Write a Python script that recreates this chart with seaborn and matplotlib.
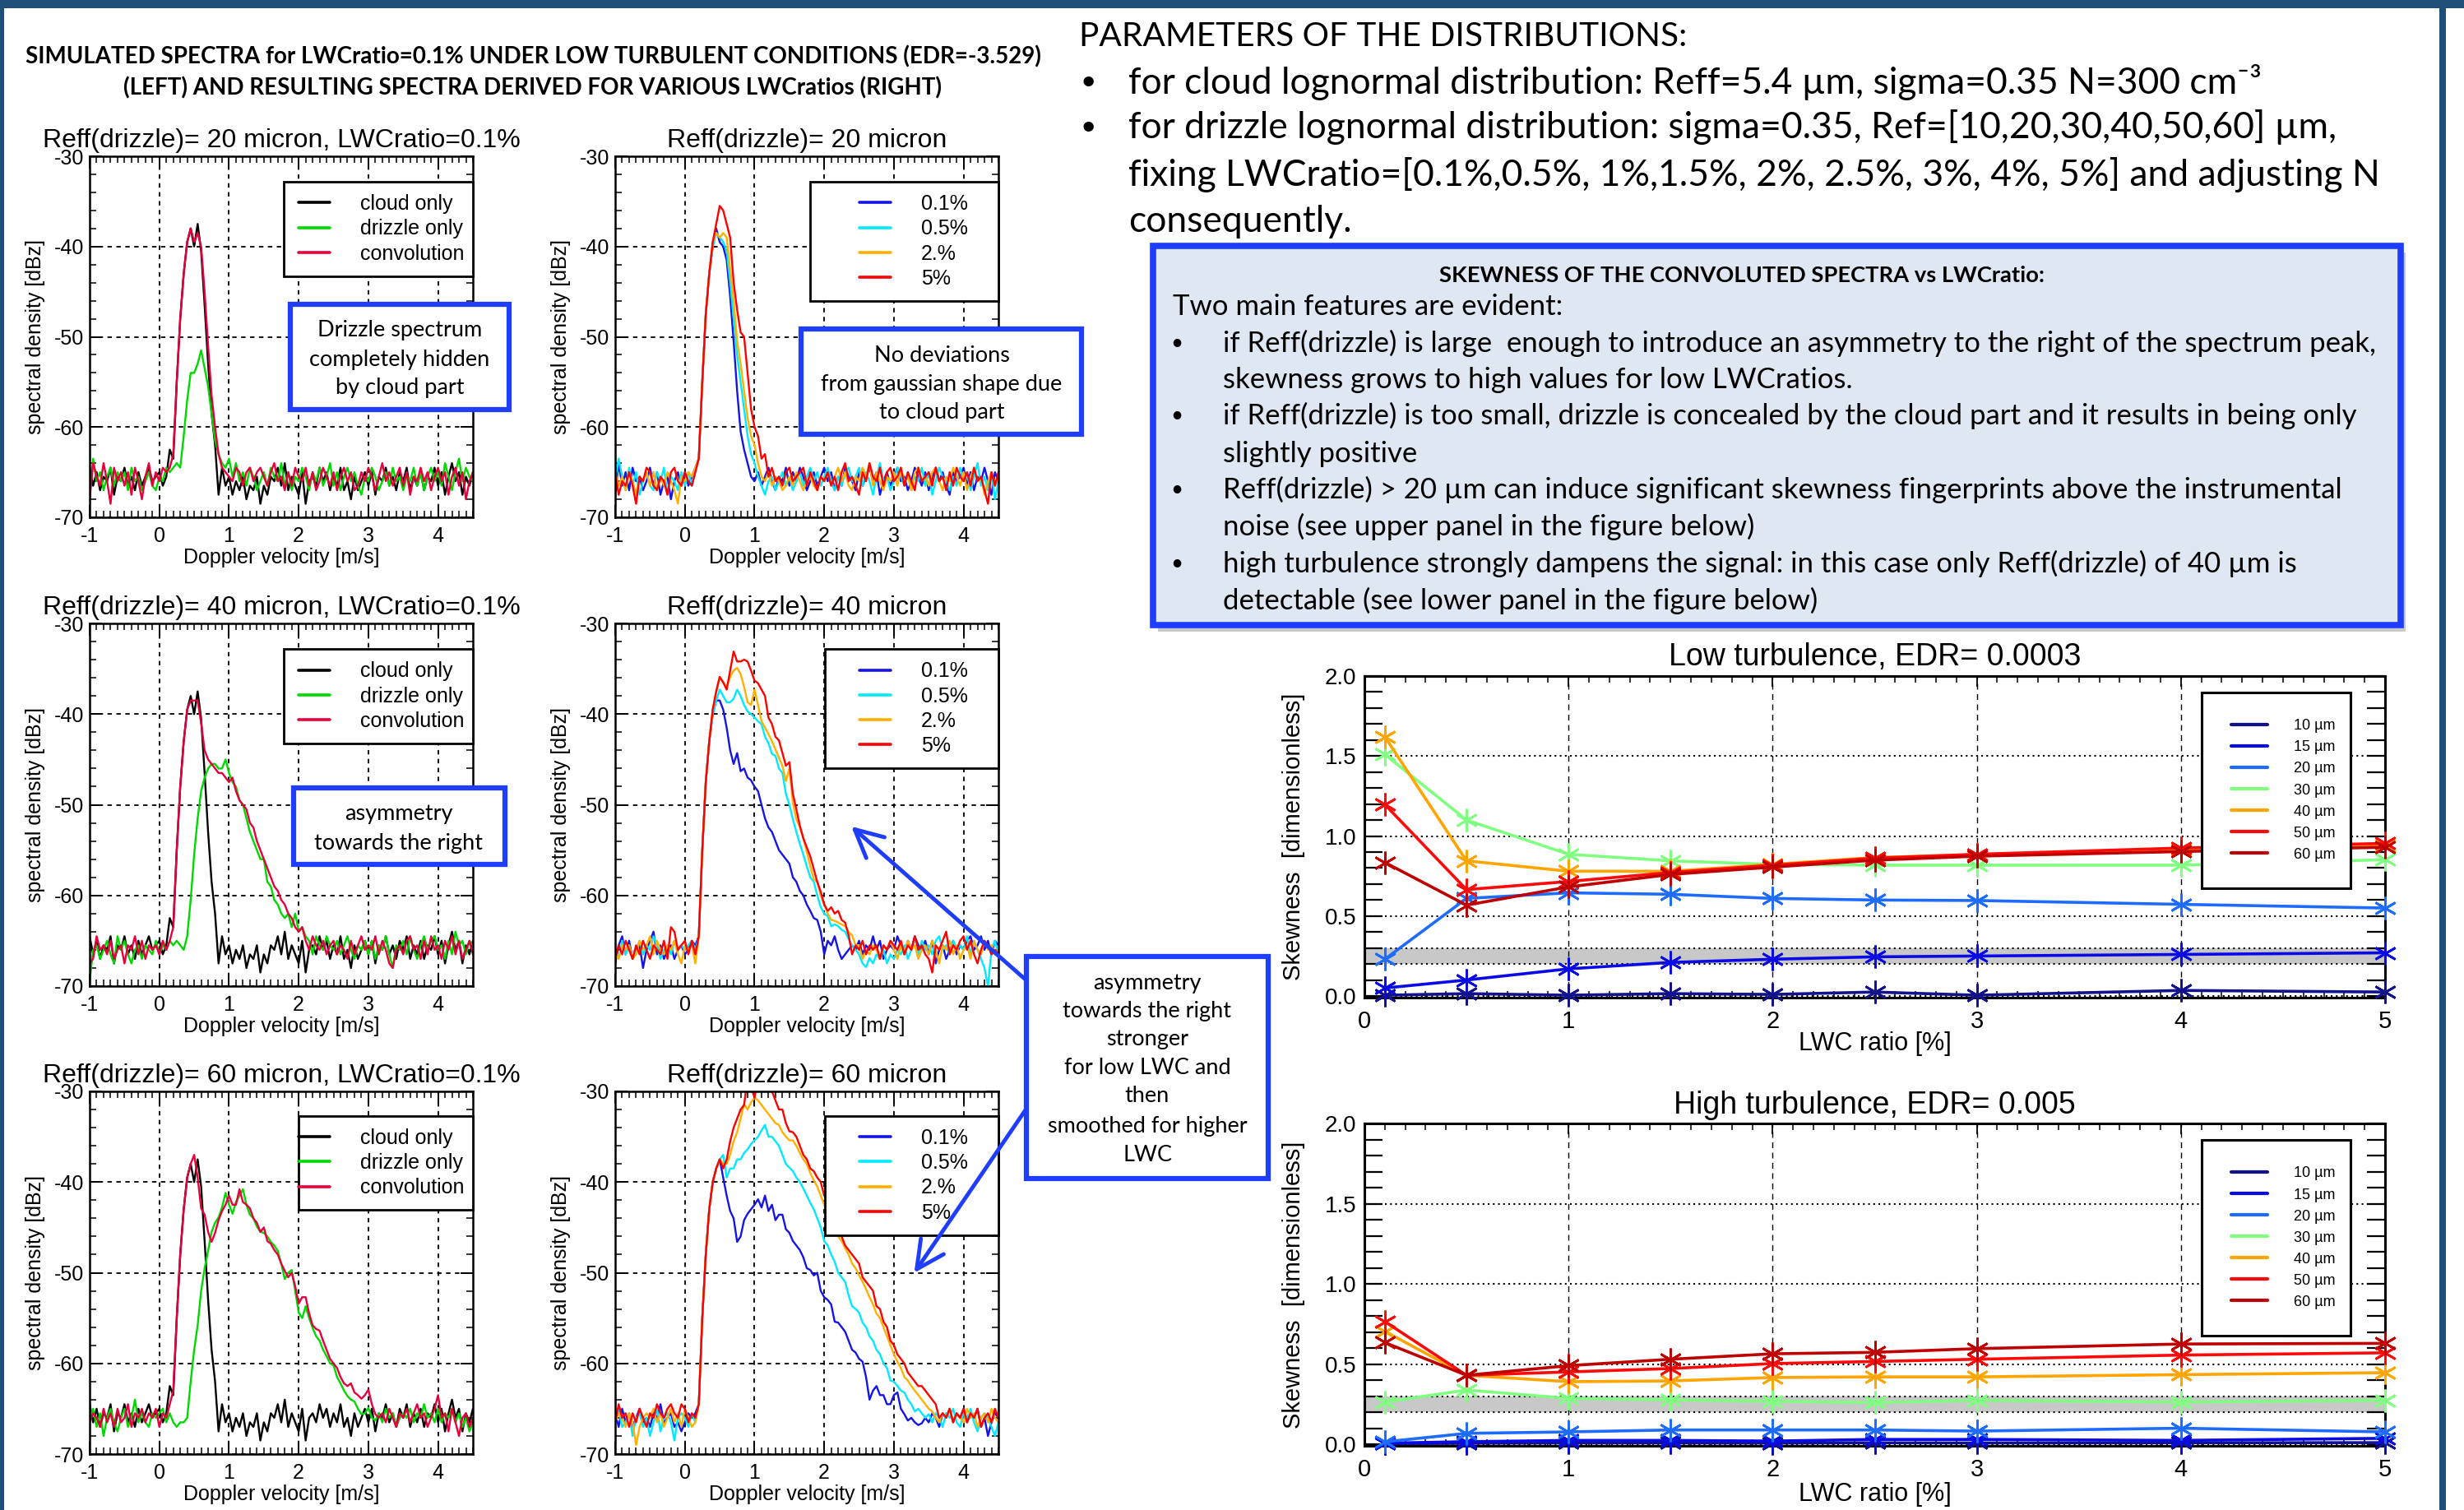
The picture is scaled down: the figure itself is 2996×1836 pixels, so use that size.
import numpy as np
import pandas as pd
import matplotlib
matplotlib.use("Agg")
import matplotlib.pyplot as plt
import seaborn as sns
from matplotlib.patches import Rectangle, FancyArrowPatch
from matplotlib.lines import Line2D
from matplotlib.legend_handler import HandlerLine2D
from matplotlib.ticker import MultipleLocator, FormatStrFormatter

# ---------------------------------------------------------------- data
velocity = [-1.0, -0.95, -0.9, -0.85, -0.8, -0.75, -0.7, -0.65, -0.6, -0.55,
            -0.5, -0.45, -0.4, -0.35, -0.3, -0.25, -0.2, -0.15, -0.1, -0.05,
            0.0, 0.05, 0.1, 0.15, 0.2, 0.25, 0.3, 0.35, 0.4, 0.45,
            0.5, 0.55, 0.6, 0.65, 0.7, 0.75, 0.8, 0.85, 0.9, 0.95,
            1.0, 1.05, 1.1, 1.15, 1.2, 1.25, 1.3, 1.35, 1.4, 1.45,
            1.5, 1.55, 1.6, 1.65, 1.7, 1.75, 1.8, 1.85, 1.9, 1.95,
            2.0, 2.05, 2.1, 2.15, 2.2, 2.25, 2.3, 2.35, 2.4, 2.45,
            2.5, 2.55, 2.6, 2.65, 2.7, 2.75, 2.8, 2.85, 2.9, 2.95,
            3.0, 3.05, 3.1, 3.15, 3.2, 3.25, 3.3, 3.35, 3.4, 3.45,
            3.5, 3.55, 3.6, 3.65, 3.7, 3.75, 3.8, 3.85, 3.9, 3.95,
            4.0, 4.05, 4.1, 4.15, 4.2, 4.25, 4.3, 4.35, 4.4, 4.45, 4.5]

cloud_only = [-64.5, -66.5, -65.0, -67.0, -65.5, -66.0, -64.5, -67.5, -65.5, -66.0,
              -64.5, -66.5, -65.5, -67.0, -65.0, -66.5, -65.5, -64.5, -66.0, -65.5,
              -65.0, -66.5, -65.5, -62.5, -63.5, -55.0, -48.0, -43.0, -39.5, -38.0,
              -40.0, -37.5, -40.5, -46.5, -53.0, -58.5, -62.0, -67.5, -64.5, -66.5,
              -65.5, -67.5, -66.0, -67.0, -65.5, -68.0, -66.5, -67.0, -65.5, -68.5,
              -66.5, -67.5, -65.5, -66.0, -64.5, -66.5, -64.0, -67.0, -65.5, -66.5,
              -67.5, -65.0, -68.5, -66.0, -65.5, -66.5, -64.5, -66.0, -65.0, -67.0,
              -65.5, -66.5, -64.5, -67.0, -66.0, -68.0, -65.5, -67.0, -66.0, -65.0,
              -66.5, -65.0, -67.5, -65.5, -66.0, -64.5, -66.5, -65.5, -67.0, -65.0,
              -66.0, -64.5, -67.0, -65.5, -66.5, -65.0, -67.0, -65.5, -66.0, -64.5,
              -66.5, -65.0, -67.5, -65.5, -64.0, -66.0, -65.0, -67.5, -65.5, -66.5, -65.0]

drizzle_r20 = [-67.5, -63.5, -66.0, -65.0, -67.0, -65.5, -64.5, -66.5, -65.0, -66.0,
               -65.0, -67.0, -64.5, -66.0, -65.5, -67.0, -66.0, -65.0, -66.5, -67.0,
               -65.5, -66.0, -64.5, -65.0, -64.5, -64.0, -64.5, -61.0, -57.0, -54.0,
               -54.0, -53.0, -51.5, -53.5, -55.5, -58.5, -61.5, -63.0, -64.0, -64.5,
               -63.5, -65.5, -64.0, -66.0, -65.0, -66.5, -64.5, -65.5, -67.0, -66.0,
               -65.0, -66.5, -64.5, -65.5, -66.0, -64.0, -66.5, -65.0, -67.0, -65.5,
               -66.0, -64.5, -65.5, -67.0, -65.0, -66.0, -64.5, -66.5, -65.5, -64.0,
               -66.5, -65.0, -67.0, -65.5, -64.5, -66.0, -65.0, -66.5, -67.5, -65.5,
               -66.0, -64.5, -65.5, -67.0, -66.0, -65.0, -66.5, -64.5, -66.0, -65.5,
               -67.0, -65.5, -66.0, -64.5, -66.5, -65.0, -67.0, -65.5, -64.5, -66.0,
               -65.0, -66.5, -64.0, -65.5, -67.0, -65.0, -63.5, -66.0, -64.5, -65.5, -66.0]

conv_r20 = [-68.0, -64.0, -65.5, -66.5, -64.0, -66.0, -68.5, -64.5, -66.0, -65.0,
            -66.5, -65.0, -67.5, -64.5, -66.0, -68.0, -65.5, -64.0, -66.5, -65.0,
            -66.0, -64.5, -65.0, -64.5, -63.0, -55.0, -48.0, -43.0, -39.5, -38.0,
            -39.5, -38.5, -40.0, -45.0, -51.0, -56.5, -60.0, -63.0, -64.5, -65.0,
            -65.5, -66.0, -64.5, -65.0, -66.5, -65.0, -64.5, -66.0, -65.0, -64.5,
            -65.5, -66.5, -65.0, -64.0, -66.0, -65.5, -67.0, -65.0, -66.5, -64.5,
            -65.5, -66.0, -64.5, -66.5, -65.0, -67.0, -66.0, -64.5, -65.5, -66.5,
            -65.0, -67.0, -65.5, -64.5, -66.0, -65.0, -67.0, -66.5, -65.0, -66.0,
            -64.5, -65.5, -67.0, -65.5, -64.0, -66.0, -65.0, -66.5, -65.5, -64.5,
            -66.5, -65.0, -67.5, -65.5, -66.0, -64.5, -66.0, -65.0, -67.0, -65.5,
            -64.5, -66.0, -65.0, -67.5, -65.5, -64.5, -66.5, -65.0, -68.0, -66.0, -65.0]

lwc01_r20 = [-67.5, -64.0, -66.5, -65.0, -67.0, -64.5, -66.0, -65.5, -67.0, -66.0,
             -64.5, -66.5, -65.0, -67.5, -66.0, -65.5, -68.0, -66.0, -65.0, -66.5,
             -65.0, -66.5, -65.5, -64.5, -63.5, -55.0, -47.5, -43.0, -40.0, -38.0,
             -39.5, -40.0, -41.5, -45.5, -50.5, -56.0, -60.5, -62.5, -64.0, -65.5,
             -66.0, -65.0, -66.5, -65.5, -64.5, -66.0, -67.0, -65.5, -66.0, -64.5,
             -66.5, -65.0, -66.0, -64.5, -65.5, -67.0, -66.0, -65.0, -66.5, -65.5,
             -64.5, -66.0, -65.0, -67.0, -65.5, -66.5, -64.5, -65.5, -66.0, -67.0,
             -65.0, -66.5, -65.5, -64.5, -66.0, -65.0, -67.5, -66.0, -65.0, -66.5,
             -65.5, -64.5, -66.0, -65.5, -67.0, -66.0, -64.5, -65.5, -66.5, -65.0,
             -67.0, -65.5, -64.5, -66.0, -65.0, -66.5, -67.5, -65.0, -66.0, -65.5,
             -64.5, -66.5, -65.0, -67.0, -65.5, -66.0, -64.5, -66.0, -67.5, -65.0, -66.0]

lwc05_r20 = [-66.0, -63.5, -65.5, -67.0, -64.5, -66.5, -65.0, -67.5, -66.0, -65.0,
             -66.5, -67.0, -65.0, -66.0, -64.5, -67.5, -65.5, -66.0, -67.0, -65.0,
             -66.5, -65.0, -66.5, -65.0, -63.5, -55.0, -47.5, -43.0, -40.0, -38.5,
             -39.0, -39.5, -40.5, -44.0, -48.0, -52.0, -55.0, -58.0, -61.0, -63.0,
             -64.0, -65.5, -66.5, -67.5, -66.0, -65.5, -67.0, -66.0, -65.0, -66.5,
             -65.5, -67.0, -66.0, -65.0, -66.5, -65.5, -64.5, -66.0, -65.0, -66.5,
             -65.5, -64.5, -66.0, -67.0, -65.5, -66.5, -65.0, -64.5, -66.0, -65.5,
             -64.5, -66.5, -65.0, -66.0, -67.5, -65.5, -64.0, -66.0, -65.5, -67.0,
             -66.0, -64.5, -65.5, -66.5, -65.0, -67.0, -65.5, -66.0, -64.5, -66.5,
             -65.0, -67.5, -66.0, -64.5, -65.5, -66.0, -67.0, -65.5, -66.5, -64.5,
             -66.0, -65.0, -67.0, -65.5, -64.0, -66.5, -65.5, -67.0, -65.0, -68.0, -66.0]

lwc2_r20 = [-65.0, -66.5, -65.5, -67.0, -65.0, -66.0, -67.5, -65.5, -66.0, -65.0,
            -66.5, -65.0, -67.0, -65.5, -66.5, -65.0, -66.0, -67.0, -68.5, -65.5,
            -66.0, -65.0, -65.5, -64.5, -63.5, -55.0, -47.5, -43.0, -39.5, -38.5,
            -39.0, -38.5, -39.0, -42.5, -46.0, -50.5, -53.0, -56.0, -59.0, -61.0,
            -62.0, -64.0, -65.5, -66.0, -65.0, -66.5, -65.5, -66.0, -67.0, -66.5,
            -65.5, -66.5, -65.0, -66.0, -67.0, -66.0, -65.5, -66.5, -67.0, -65.5,
            -66.0, -65.0, -66.5, -65.5, -64.5, -66.0, -65.0, -66.5, -67.0, -65.5,
            -66.0, -64.5, -65.5, -64.0, -66.5, -65.0, -66.0, -67.0, -65.5, -66.0,
            -65.0, -66.5, -64.5, -66.0, -65.5, -67.0, -65.0, -64.5, -66.0, -65.5,
            -66.5, -65.0, -64.5, -66.0, -67.0, -65.5, -66.0, -64.5, -65.5, -66.5,
            -65.0, -67.0, -65.5, -64.5, -66.0, -65.5, -67.5, -66.0, -65.0, -66.5, -65.5]

lwc5_r20 = [-65.0, -67.5, -66.0, -66.5, -65.0, -66.5, -68.5, -65.5, -66.0, -64.5,
            -65.0, -66.5, -67.0, -65.5, -66.0, -67.5, -65.0, -64.5, -66.0, -66.5,
            -65.0, -66.0, -66.5, -65.0, -63.5, -55.0, -47.5, -43.0, -39.5, -37.5,
            -35.5, -36.0, -37.5, -39.0, -44.0, -47.0, -49.5, -50.0, -54.0, -58.0,
            -60.0, -61.0, -63.5, -63.0, -65.5, -64.5, -66.0, -65.5, -66.5, -65.0,
            -64.5, -66.0, -65.5, -65.0, -64.5, -66.5, -65.0, -66.0, -67.0, -65.5,
            -66.0, -65.0, -66.5, -65.5, -67.0, -65.0, -64.0, -66.0, -65.5, -66.5,
            -67.5, -65.0, -66.0, -64.0, -65.5, -66.0, -64.5, -66.5, -65.0, -64.5,
            -66.0, -65.5, -64.5, -66.5, -65.0, -66.0, -67.0, -64.5, -66.0, -65.5,
            -65.0, -66.5, -64.5, -66.0, -65.5, -67.0, -65.0, -66.5, -64.5, -65.5,
            -66.0, -65.0, -66.5, -64.5, -66.0, -65.5, -67.0, -68.5, -65.0, -66.5, -65.0]

drizzle_r40 = [-69.5, -66.0, -65.5, -67.0, -66.0, -65.0, -66.5, -67.5, -64.5, -66.0,
               -65.0, -66.5, -67.5, -66.0, -65.5, -67.0, -65.5, -66.0, -66.5, -65.0,
               -66.5, -65.5, -66.0, -65.0, -65.5, -65.0, -65.5, -66.0, -64.5, -60.5,
               -55.5, -51.5, -48.5, -47.0, -46.0, -45.5, -45.5, -46.0, -46.0, -45.0,
               -46.5, -47.5, -48.0, -49.5, -50.0, -51.5, -53.0, -54.0, -55.0, -56.0,
               -56.0, -58.5, -59.0, -60.5, -61.0, -62.0, -62.5, -62.0, -63.5, -62.0,
               -64.0, -63.5, -64.5, -65.0, -66.5, -64.5, -65.5, -66.0, -64.5, -65.5,
               -66.0, -65.0, -66.5, -65.5, -64.5, -66.0, -67.0, -65.5, -66.0, -65.0,
               -66.5, -65.0, -67.0, -65.5, -66.0, -64.5, -66.5, -68.0, -65.5, -66.0,
               -65.0, -66.5, -64.5, -66.0, -67.0, -65.5, -64.5, -66.0, -65.0, -64.5,
               -66.0, -65.5, -67.0, -65.0, -66.5, -64.0, -65.5, -65.0, -66.5, -65.0, -65.5]

conv_r40 = [-67.5, -67.0, -64.5, -66.0, -65.5, -66.5, -65.0, -67.0, -66.0, -65.5,
            -67.5, -65.5, -66.0, -64.5, -66.5, -65.0, -67.0, -65.5, -66.0, -65.5,
            -66.5, -65.0, -66.0, -65.0, -63.5, -55.0, -48.0, -43.0, -39.5, -38.5,
            -38.5, -38.5, -41.0, -44.0, -45.0, -45.5, -46.0, -46.5, -46.5, -47.0,
            -47.5, -47.0, -48.5, -49.5, -50.0, -50.5, -52.0, -52.5, -54.0, -55.0,
            -56.0, -57.0, -58.0, -59.0, -59.5, -60.5, -61.0, -62.0, -62.5, -63.5,
            -64.0, -63.5, -65.0, -66.0, -64.5, -65.5, -66.0, -65.0, -66.5, -65.5,
            -65.0, -66.5, -65.5, -66.0, -67.0, -65.0, -66.5, -65.5, -64.5, -66.0,
            -65.5, -66.0, -64.5, -66.5, -65.0, -66.0, -67.5, -68.0, -66.0, -65.5,
            -66.5, -65.0, -64.5, -66.0, -65.5, -67.0, -65.0, -66.5, -64.5, -66.0,
            -65.5, -67.0, -65.0, -66.0, -64.5, -66.5, -65.0, -67.0, -66.0, -65.0, -66.5]

lwc01_r40 = [-67.5, -65.5, -64.5, -66.5, -65.0, -67.0, -66.0, -65.5, -68.0, -66.0,
             -65.0, -64.0, -66.5, -65.5, -67.0, -66.0, -65.5, -67.0, -66.0, -65.5,
             -66.5, -66.0, -65.0, -65.5, -64.5, -55.0, -47.5, -43.0, -40.0, -38.5,
             -38.5, -39.5, -41.5, -44.0, -45.5, -44.3, -46.3, -46.0, -47.0, -47.3,
             -48.0, -48.5, -50.0, -51.5, -52.5, -53.0, -54.0, -55.0, -55.5, -56.0,
             -56.5, -58.0, -58.5, -59.5, -60.0, -61.0, -61.7, -62.5, -62.7, -64.0,
             -66.5, -65.0, -65.5, -64.5, -66.0, -67.0, -66.5, -66.0, -65.5, -66.0,
             -65.0, -66.5, -65.5, -66.0, -64.5, -66.0, -65.0, -67.0, -66.0, -65.5,
             -66.0, -64.5, -65.5, -66.5, -65.0, -66.0, -64.5, -65.5, -66.0, -65.0,
             -66.5, -65.0, -67.5, -66.0, -65.5, -67.0, -66.0, -65.0, -66.5, -65.5,
             -66.0, -65.0, -64.5, -66.0, -65.5, -64.5, -66.0, -65.0, -66.5, -65.0, -65.5]

lwc05_r40 = [-66.0, -67.0, -65.0, -66.5, -65.5, -67.0, -66.0, -65.0, -66.5, -65.5,
             -66.0, -64.5, -65.5, -67.0, -66.0, -65.5, -66.5, -65.0, -66.0, -65.5,
             -66.0, -65.5, -65.0, -66.0, -64.5, -55.0, -47.5, -43.0, -40.0, -38.5,
             -37.3, -38.0, -38.7, -38.7, -38.3, -37.3, -38.0, -39.0, -39.7, -40.0,
             -40.4, -40.8, -41.1, -42.5, -43.2, -44.4, -44.6, -46.0, -46.5, -48.8,
             -50.0, -51.6, -53.0, -54.3, -55.5, -56.8, -58.0, -58.5, -60.0, -61.3,
             -62.0, -62.3, -63.4, -63.2, -63.4, -63.8, -64.0, -64.8, -65.5, -66.0,
             -66.5, -67.5, -67.9, -66.9, -67.5, -66.5, -67.0, -66.0, -67.5, -66.5,
             -67.0, -66.0, -66.5, -65.5, -67.0, -66.0, -65.5, -66.5, -65.0, -66.0,
             -65.5, -66.5, -65.0, -64.5, -66.0, -65.5, -66.5, -65.0, -66.0, -65.5,
             -66.0, -64.5, -66.5, -65.0, -66.0, -67.0, -68.0, -70.0, -66.0, -65.0, -66.5]

lwc2_r40 = [-66.5, -67.0, -65.5, -66.0, -65.5, -67.0, -66.5, -65.0, -66.0, -65.5,
            -64.5, -66.5, -65.0, -66.0, -66.5, -65.5, -66.0, -65.0, -66.5, -67.5,
            -65.5, -66.0, -65.5, -67.5, -64.5, -55.0, -47.5, -43.0, -39.5, -37.5,
            -35.9, -36.5, -37.0, -35.9, -35.2, -34.9, -35.6, -37.0, -38.7, -39.0,
            -37.3, -39.0, -40.8, -41.5, -42.2, -43.0, -43.9, -44.8, -45.7, -47.4,
            -46.0, -49.8, -51.6, -52.5, -53.7, -55.2, -56.8, -58.2, -58.5, -60.0,
            -61.0, -62.0, -62.7, -62.8, -63.0, -63.2, -63.4, -64.0, -64.4, -65.5,
            -65.5, -67.0, -66.0, -66.5, -65.5, -66.0, -67.0, -65.5, -66.0, -65.0,
            -66.0, -67.0, -65.5, -66.5, -65.0, -66.0, -65.5, -67.0, -66.0, -65.5,
            -66.5, -65.0, -66.0, -67.5, -65.5, -66.0, -65.0, -66.5, -65.5, -67.0,
            -66.0, -65.5, -67.0, -65.0, -66.0, -66.5, -65.0, -66.0, -65.5, -66.5, -66.0]

lwc5_r40 = [-67.0, -65.5, -66.5, -65.0, -66.0, -67.0, -65.5, -66.5, -65.0, -66.0,
            -67.0, -65.5, -66.0, -66.5, -65.0, -67.0, -63.5, -64.0, -66.0, -65.5,
            -65.0, -66.5, -65.0, -66.5, -64.5, -55.0, -47.5, -43.0, -39.5, -37.5,
            -35.9, -36.5, -37.3, -35.2, -33.1, -34.2, -34.2, -34.0, -34.2, -35.2,
            -36.3, -36.6, -37.3, -38.0, -40.4, -41.1, -42.5, -42.9, -44.3, -45.7,
            -45.3, -48.8, -50.5, -52.3, -53.7, -54.7, -55.7, -57.1, -58.5, -59.6,
            -61.0, -61.7, -61.3, -62.0, -61.7, -62.7, -63.0, -64.4, -66.5, -65.5,
            -66.0, -65.0, -66.5, -65.5, -66.0, -65.5, -67.0, -65.5, -66.0, -65.0,
            -65.5, -66.0, -65.0, -66.5, -65.5, -66.0, -64.5, -66.0, -65.5, -66.5,
            -67.0, -68.5, -65.5, -66.0, -65.0, -64.0, -66.5, -65.5, -66.0, -65.0,
            -64.5, -66.0, -65.0, -66.5, -67.5, -66.0, -65.0, -65.5, -66.5, -66.0, -66.5]

drizzle_r60 = [-66.0, -65.0, -67.0, -65.5, -68.0, -66.0, -65.0, -66.5, -67.5, -66.0,
               -65.0, -67.0, -66.0, -64.0, -66.5, -65.5, -66.5, -67.0, -65.5, -66.0,
               -65.5, -65.0, -66.5, -65.5, -66.5, -67.0, -66.5, -66.5, -66.0, -62.0,
               -58.5, -55.8, -52.0, -49.5, -47.6, -45.5, -44.5, -43.9, -42.8, -41.2,
               -42.5, -43.5, -42.2, -41.5, -40.8, -42.5, -43.6, -44.0, -44.9, -45.5,
               -45.6, -46.0, -46.6, -47.0, -47.6, -49.0, -50.7, -50.0, -49.7, -52.0,
               -54.4, -55.0, -53.7, -55.0, -56.1, -57.0, -57.5, -58.5, -59.2, -60.0,
               -60.2, -61.5, -62.2, -63.0, -63.6, -64.0, -64.2, -65.0, -65.6, -65.5,
               -64.9, -66.0, -66.3, -65.5, -66.5, -65.0, -66.0, -65.5, -67.0, -66.0,
               -65.5, -66.0, -65.0, -66.5, -65.5, -66.0, -64.5, -66.0, -65.5, -66.5,
               -65.0, -66.5, -65.5, -66.0, -65.0, -66.5, -65.5, -67.0, -66.0, -67.5, -66.5]

conv_r60 = [-66.5, -65.5, -66.0, -67.0, -65.0, -66.5, -65.5, -67.0, -65.0, -66.5,
            -66.0, -64.5, -67.0, -65.5, -66.0, -65.0, -66.5, -65.5, -66.0, -65.0,
            -67.0, -65.5, -66.0, -64.5, -63.0, -55.0, -48.0, -43.0, -39.5, -38.0,
            -37.0, -39.5, -42.9, -43.6, -45.5, -46.6, -45.6, -44.2, -43.2, -42.5,
            -41.5, -42.5, -42.5, -40.8, -42.2, -42.5, -42.9, -44.0, -44.5, -45.5,
            -45.0, -46.5, -46.8, -47.5, -48.0, -49.0, -49.8, -50.5, -50.0, -51.5,
            -53.4, -52.7, -52.7, -54.5, -55.8, -56.2, -56.4, -57.5, -58.5, -59.5,
            -60.0, -60.5, -61.5, -62.2, -62.5, -62.2, -63.2, -63.5, -63.9, -63.5,
            -62.9, -64.5, -65.6, -66.0, -65.5, -66.5, -65.0, -66.0, -67.0, -65.5,
            -66.0, -65.0, -66.5, -65.5, -64.5, -66.0, -65.5, -67.0, -66.0, -65.0,
            -63.5, -66.0, -65.5, -67.5, -65.0, -66.5, -68.0, -66.0, -65.5, -67.0, -66.0]

lwc01_r60 = [-65.5, -67.0, -65.0, -66.5, -65.5, -67.0, -66.0, -65.0, -66.5, -66.0,
             -67.0, -65.5, -66.0, -64.5, -66.5, -66.0, -65.5, -67.0, -66.5, -67.5,
             -66.5, -65.5, -66.0, -65.5, -64.5, -55.0, -48.0, -43.0, -40.0, -38.5,
             -37.5, -39.5, -41.5, -43.2, -44.0, -46.6, -46.0, -44.2, -43.5, -43.0,
             -42.5, -41.9, -42.8, -41.5, -43.2, -42.5, -44.2, -43.6, -43.6, -45.2,
             -45.6, -46.5, -47.0, -47.5, -48.3, -49.5, -49.7, -50.3, -50.0, -52.0,
             -52.7, -53.0, -53.5, -55.4, -55.5, -56.0, -56.5, -57.5, -58.5, -58.8,
             -59.5, -59.8, -61.5, -64.0, -63.0, -62.5, -63.5, -63.5, -64.5, -64.5,
             -63.5, -63.2, -65.0, -65.6, -66.3, -66.0, -66.5, -66.8, -66.6, -66.0,
             -66.5, -65.5, -66.0, -67.0, -65.5, -66.0, -65.0, -66.5, -65.5, -66.0,
             -65.0, -66.5, -65.5, -66.0, -65.0, -67.0, -66.0, -68.0, -66.5, -65.5, -66.0]

lwc05_r60 = [-66.0, -65.0, -67.0, -66.5, -65.5, -68.0, -66.0, -65.5, -67.0, -66.0,
             -68.0, -66.5, -65.0, -67.5, -66.0, -65.5, -66.5, -68.5, -66.0, -65.5,
             -66.0, -67.0, -65.5, -66.5, -64.5, -55.0, -48.0, -43.0, -40.0, -38.5,
             -37.5, -37.0, -39.5, -38.5, -38.5, -37.5, -37.5, -36.8, -36.4, -35.8,
             -35.4, -35.0, -34.3, -33.7, -35.0, -35.0, -35.5, -36.0, -37.0, -38.0,
             -38.4, -38.8, -39.5, -40.0, -40.7, -41.5, -42.3, -43.0, -44.0, -45.0,
             -46.5, -47.0, -48.0, -48.8, -50.0, -50.5, -51.0, -52.5, -53.7, -54.0,
             -54.4, -55.5, -56.0, -57.0, -57.5, -58.5, -59.0, -60.0, -60.5, -61.9,
             -62.0, -62.5, -63.0, -63.2, -64.0, -64.5, -65.3, -65.0, -65.5, -66.0,
             -65.6, -66.5, -65.5, -66.0, -67.0, -65.5, -66.0, -65.0, -66.5, -67.0,
             -65.5, -66.0, -65.0, -66.5, -67.5, -66.0, -65.5, -66.0, -67.0, -68.0, -66.5]

lwc2_r60 = [-66.5, -65.5, -66.0, -67.0, -65.5, -66.5, -69.0, -67.0, -66.0, -65.5,
            -66.0, -65.0, -66.5, -65.5, -67.0, -66.0, -65.0, -66.5, -65.5, -67.0,
            -65.0, -66.0, -67.0, -66.5, -64.5, -55.0, -48.0, -43.0, -40.0, -38.5,
            -37.5, -38.0, -38.0, -37.0, -35.5, -34.5, -33.0, -31.4, -32.0, -31.2,
            -30.7, -31.0, -31.5, -32.0, -32.5, -33.0, -33.5, -33.7, -34.5, -35.0,
            -35.4, -35.4, -36.0, -36.8, -37.5, -38.0, -39.0, -39.8, -40.5, -41.5,
            -42.5, -43.2, -44.0, -45.0, -46.0, -46.5, -47.3, -48.0, -49.0, -49.5,
            -50.3, -51.0, -51.8, -52.7, -53.5, -54.5, -55.0, -56.0, -57.0, -58.0,
            -59.0, -59.8, -60.5, -61.5, -61.9, -62.5, -63.0, -63.5, -64.0, -64.5,
            -65.0, -65.3, -66.0, -66.5, -65.5, -66.0, -65.0, -66.5, -65.5, -66.0,
            -66.5, -65.0, -66.0, -65.5, -67.0, -66.0, -65.5, -66.5, -65.0, -66.0, -66.5]

lwc5_r60 = [-66.5, -64.5, -66.0, -65.5, -67.0, -65.5, -66.5, -65.0, -66.0, -67.0,
            -65.5, -66.0, -64.5, -65.5, -66.0, -65.0, -64.5, -65.5, -66.0, -64.5,
            -65.0, -66.5, -65.5, -66.0, -64.5, -55.0, -48.0, -43.0, -40.0, -38.5,
            -37.5, -38.5, -37.5, -35.5, -34.0, -33.0, -32.0, -31.5, -28.5, -29.5,
            -30.7, -28.5, -29.0, -30.0, -29.5, -30.0, -31.0, -32.0, -32.0, -33.5,
            -34.4, -34.5, -35.0, -36.0, -37.0, -37.5, -38.5, -38.8, -39.5, -40.0,
            -41.5, -42.0, -43.0, -44.0, -45.0, -46.0, -47.0, -47.5, -48.0, -48.5,
            -49.0, -50.5, -51.0, -51.5, -52.0, -53.7, -54.0, -55.4, -56.0, -57.5,
            -58.0, -59.0, -59.5, -60.0, -61.0, -61.5, -62.0, -62.5, -62.5, -63.0,
            -63.5, -64.0, -64.5, -66.0, -65.5, -66.0, -65.0, -66.5, -65.5, -66.0,
            -65.0, -66.5, -65.5, -66.0, -65.0, -67.0, -66.0, -65.5, -66.5, -65.0, -66.0]

component_labels = ["cloud only", "drizzle only", "convolution"]
component_colors = ["#000000", "#00d800", "#e6003c"]
lwc_labels = ["0.1%", "0.5%", "2.%", "5%"]
lwc_colors = ["#1414e6", "#00eaff", "#ffb000", "#ff0000"]

lwc_ratio = [0.1, 0.5, 1.0, 1.5, 2.0, 2.5, 3.0, 4.0, 5.0]
size_labels = ["10 µm", "15 µm", "20 µm", "30 µm", "40 µm", "50 µm", "60 µm"]
size_colors = ["#12128c", "#0a0ae6", "#1e6bff", "#80ff80", "#ffa500", "#ff0a0a", "#be0000"]

skew_low_10 = [0.005, 0.015, 0.005, 0.015, 0.010, 0.025, 0.005, 0.035, 0.025]
skew_low_15 = [0.050, 0.100, 0.170, 0.210, 0.230, 0.245, 0.250, 0.260, 0.270]
skew_low_20 = [0.230, 0.610, 0.645, 0.636, 0.610, 0.600, 0.597, 0.573, 0.550]
skew_low_30 = [1.510, 1.100, 0.886, 0.845, 0.823, 0.818, 0.818, 0.818, 0.852]
skew_low_40 = [1.620, 0.845, 0.780, 0.780, 0.823, 0.866, 0.883, 0.913, 0.942]
skew_low_50 = [1.197, 0.665, 0.716, 0.772, 0.818, 0.862, 0.886, 0.925, 0.954]
skew_low_60 = [0.835, 0.568, 0.682, 0.760, 0.806, 0.849, 0.874, 0.903, 0.930]

skew_high_10 = [0.003, 0.006, 0.008, 0.008, 0.007, 0.009, 0.008, 0.009, 0.010]
skew_high_15 = [0.007, 0.016, 0.024, 0.024, 0.020, 0.030, 0.030, 0.024, 0.037]
skew_high_20 = [0.015, 0.068, 0.077, 0.089, 0.089, 0.089, 0.082, 0.100, 0.077]
skew_high_30 = [0.263, 0.338, 0.286, 0.277, 0.268, 0.260, 0.274, 0.263, 0.274]
skew_high_40 = [0.704, 0.430, 0.390, 0.395, 0.416, 0.420, 0.420, 0.434, 0.446]
skew_high_50 = [0.765, 0.430, 0.451, 0.472, 0.503, 0.516, 0.530, 0.556, 0.570]
skew_high_60 = [0.634, 0.430, 0.490, 0.530, 0.564, 0.573, 0.596, 0.625, 0.629]

for arr in [cloud_only, drizzle_r20, conv_r20, lwc01_r20, lwc05_r20, lwc2_r20, lwc5_r20,
            drizzle_r40, conv_r40, lwc01_r40, lwc05_r40, lwc2_r40, lwc5_r40,
            drizzle_r60, conv_r60, lwc01_r60, lwc05_r60, lwc2_r60, lwc5_r60]:
    assert len(arr) == len(velocity), len(arr)

# ---------------------------------------------------------------- style
sns.set_theme(style="white")
plt.rcParams["font.family"] = ["Liberation Sans", "DejaVu Sans"]
plt.rcParams["axes.unicode_minus"] = False
for k in ["text.color", "axes.labelcolor", "xtick.color", "ytick.color", "axes.edgecolor"]:
    plt.rcParams[k] = "black"

W, H = 2996, 1836
fig = plt.figure(figsize=(W / 100, H / 100), dpi=100)
fig.patch.set_facecolor("white")


def px_axes(x0, y0, x1, y1):
    return fig.add_axes([x0 / W, 1 - y1 / H, (x1 - x0) / W, (y1 - y0) / H])


def legend_geometry(fs_px, bp, leg_left, hs, hl, ts):
    """Handle length / text pad / handle x-pad so the legend's handle and text
    land at the given pixel offsets inside a box whose left edge is leg_left."""
    hb_start = leg_left + bp * fs_px
    hb_end = hs + hl
    return dict(handlelength=(hb_end - hb_start) / fs_px,
                handletextpad=(ts - hb_end) / fs_px,
                borderpad=bp,
                handler_map={Line2D: HandlerLine2D(xpad=(hs - hb_start) / fs_px)})


LEG_FS_PX = 18 * 100 / 72.0


def spectra_panel(box, series, labels, colors, title, leg_left, leg_top, hs, ts):
    x0, y0, x1, y1 = box
    ax = px_axes(*box)
    df = pd.concat([pd.DataFrame({"velocity": velocity, "dBz": s, "curve": lab})
                    for s, lab in zip(series, labels)], ignore_index=True)
    sns.lineplot(data=df, x="velocity", y="dBz", hue="curve", hue_order=labels,
                 palette=colors, ax=ax, legend=False, errorbar=None, sort=False,
                 linewidth=1.7)
    lines = list(ax.get_lines())
    ax.set_xlim(-1, 4.5)
    ax.set_ylim(-70, -30)
    ax.xaxis.set_major_locator(MultipleLocator(1))
    ax.xaxis.set_minor_locator(MultipleLocator(0.1))
    ax.yaxis.set_major_locator(MultipleLocator(10))
    ax.yaxis.set_minor_locator(MultipleLocator(2))
    ax.tick_params(which="both", direction="in", top=True, right=True, bottom=True, left=True,
                   color="black")
    ax.tick_params(which="major", length=11, width=1.4, labelsize=18)
    ax.tick_params(which="minor", length=6, width=1.1)
    ax.tick_params(axis="x", pad=8)
    ax.tick_params(axis="y", pad=5)
    ax.grid(True, which="major", color="black", linestyle=(0, (3, 3)), linewidth=1.3)
    for sp in ax.spines.values():
        sp.set_linewidth(1.8)
        sp.set_color("black")
    ax.set_title(title, fontsize=23, pad=8)
    ax.set_xlabel("Doppler velocity [m/s]", fontsize=18)
    ax.set_ylabel("spectral density [dBz]", fontsize=18)
    ax.xaxis.set_label_coords(0.5, -0.085)
    ax.yaxis.set_label_coords(-0.115, 0.5)
    geo = legend_geometry(LEG_FS_PX, 0.6, leg_left, hs, 38.0, ts)
    lx = (leg_left - x0) / (x1 - x0)
    leg = ax.legend(lines, labels, loc="upper left",
                    bbox_to_anchor=(lx, 0, 1 - lx, leg_top), mode="expand",
                    borderaxespad=0, frameon=True, fancybox=False, edgecolor="black",
                    framealpha=1, fontsize=18, labelspacing=0.25, **geo)
    leg.get_frame().set_linewidth(2.0)
    for h in leg.legend_handles:
        h.set_linewidth(2.6)
    return ax


X1 = (109, 575)
X2 = (748, 1214)
R1 = (190, 629)
R2 = (758, 1199)
R3 = (1327, 1768)

spectra_panel((X1[0], R1[0], X1[1], R1[1]), [cloud_only, drizzle_r20, conv_r20],
              component_labels, component_colors,
              "Reff(drizzle)= 20 micron, LWCratio=0.1%", 345, 0.929, 363, 438)
spectra_panel((X2[0], R1[0], X2[1], R1[1]), [lwc01_r20, lwc05_r20, lwc2_r20, lwc5_r20],
              lwc_labels, lwc_colors, "Reff(drizzle)= 20 micron", 985, 0.929, 1045, 1120)
spectra_panel((X1[0], R2[0], X1[1], R2[1]), [cloud_only, drizzle_r40, conv_r40],
              component_labels, component_colors,
              "Reff(drizzle)= 40 micron, LWCratio=0.1%", 345, 0.929, 363, 438)
spectra_panel((X2[0], R2[0], X2[1], R2[1]), [lwc01_r40, lwc05_r40, lwc2_r40, lwc5_r40],
              lwc_labels, lwc_colors, "Reff(drizzle)= 40 micron", 1003, 0.929, 1045, 1120)
spectra_panel((X1[0], R3[0], X1[1], R3[1]), [cloud_only, drizzle_r60, conv_r60],
              component_labels, component_colors,
              "Reff(drizzle)= 60 micron, LWCratio=0.1%", 363, 0.932, 363, 438)
spectra_panel((X2[0], R3[0], X2[1], R3[1]), [lwc01_r60, lwc05_r60, lwc2_r60, lwc5_r60],
              lwc_labels, lwc_colors, "Reff(drizzle)= 60 micron", 1003, 0.932, 1045, 1120)

SK_FS_PX = 13 * 100 / 72.0


def skew_panel(box, series, title, xlab_y):
    x0, y0, x1, y1 = box
    ax = px_axes(*box)
    ax.axhspan(0.2, 0.3, color="#c8c8c8", zorder=0.5, lw=0)
    df = pd.concat([pd.DataFrame({"lwc": lwc_ratio, "skew": s, "size": lab})
                    for s, lab in zip(series, size_labels)], ignore_index=True)
    sns.lineplot(data=df, x="lwc", y="skew", hue="size", hue_order=size_labels,
                 palette=size_colors, ax=ax, legend=False, errorbar=None, sort=False,
                 linewidth=2.6, marker=(6, 2, 0), markersize=20, markeredgewidth=2.0)
    lines = list(ax.get_lines())
    for ln in lines:
        ln.set_markeredgecolor(ln.get_color())
        ln.set_clip_on(False)
        ln.set_zorder(3)
    for yv in (0.2, 0.3):
        ax.axhline(yv, color="black", linestyle=(0, (1, 2)), linewidth=1.5, zorder=1)
    ax.set_xlim(0, 5)
    ax.set_ylim(-0.01, 2.0)
    ax.xaxis.set_major_locator(MultipleLocator(1))
    ax.xaxis.set_minor_locator(MultipleLocator(0.1))
    ax.yaxis.set_major_locator(MultipleLocator(0.5))
    ax.yaxis.set_minor_locator(MultipleLocator(0.1))
    ax.yaxis.set_major_formatter(FormatStrFormatter("%.1f"))
    ax.xaxis.set_major_formatter(FormatStrFormatter("%d"))
    ax.tick_params(which="both", direction="in", top=True, right=True, bottom=True, left=True,
                   color="black")
    ax.tick_params(axis="x", which="major", length=9, width=1.3, labelsize=21, pad=11)
    ax.tick_params(axis="x", which="minor", length=6, width=1.1)
    ax.tick_params(axis="y", which="both", length=16, width=1.6, labelsize=20, pad=7)
    ax.yaxis.grid(True, which="major", color="black", linestyle=(0, (1, 2)), linewidth=1.5)
    ax.xaxis.grid(True, which="major", color="black", linestyle=(0, (5, 4)), linewidth=1.0)
    for sp in ax.spines.values():
        sp.set_linewidth(2.2)
        sp.set_color("black")
    ax.set_title(title, fontsize=27, pad=9)
    ax.set_xlabel("LWC ratio [%]", fontsize=22)
    ax.set_ylabel("Skewness  [dimensionless]", fontsize=21)
    ax.xaxis.set_label_coords(0.5, xlab_y)
    ax.yaxis.set_label_coords(-0.058, 0.5)
    geo = legend_geometry(SK_FS_PX, 1.8, 2677, 2713, 44.0, 2789)
    lx = (2677 - x0) / (x1 - x0)
    leg = ax.legend(lines, size_labels, loc="upper left",
                    bbox_to_anchor=(lx, 0, 181 / (x1 - x0), 0.949), mode="expand",
                    borderaxespad=0, frameon=True, fancybox=False, edgecolor="black",
                    framealpha=1, fontsize=13, labelspacing=0.5, **geo)
    leg.get_frame().set_linewidth(2.2)
    for h in leg.legend_handles:
        h.set_marker("")
        h.set_linewidth(3)
    return ax


skew_panel((1659, 822, 2900, 1213),
           [skew_low_10, skew_low_15, skew_low_20, skew_low_30, skew_low_40, skew_low_50, skew_low_60],
           "Low turbulence, EDR= 0.0003", -0.105)
skew_panel((1659, 1366, 2900, 1758),
           [skew_high_10, skew_high_15, skew_high_20, skew_high_30, skew_high_40, skew_high_50, skew_high_60],
           "High turbulence, EDR= 0.005", -0.112)

# ---------------------------------------------------------------- overlay (poster text)
ov = fig.add_axes([0, 0, 1, 1])
ov.set_xlim(0, W)
ov.set_ylim(H, 0)
ov.axis("off")
ov.set_zorder(20)
ov.patch.set_alpha(0)

frame_col = "#1f4e79"
box_blue = "#1f3dff"
ov.add_patch(Rectangle((0, 0), W, 10, color=frame_col, lw=0))
ov.add_patch(Rectangle((0, 0), 5, H, color=frame_col, lw=0))
ov.add_patch(Rectangle((2966, 0), 8, H, color=frame_col, lw=0))

CAL = ["Lato", "DejaVu Sans"]

fig.canvas.draw()
renderer = fig.canvas.get_renderer()


def fit(texts, ref, target, scale=1.0):
    w = ref.get_window_extent(renderer).width
    size = ref.get_fontsize() * target / w
    for t in texts:
        t.set_fontsize(size * scale)


# title (top left)
tt1 = ov.text(648, 69, "SIMULATED SPECTRA for LWCratio=0.1% UNDER LOW TURBULENT CONDITIONS (EDR=-3.529)",
              ha="center", va="center", fontsize=20, fontweight="bold", family=CAL)
tt2 = ov.text(648, 107, "(LEFT) AND RESULTING SPECTRA DERIVED FOR VARIOUS LWCratios (RIGHT)",
              ha="center", va="center", fontsize=20, fontweight="bold", family=CAL)

# parameters
pp0 = ov.text(1312, 45, "PARAMETERS OF THE DISTRIBUTIONS:", ha="left", va="center",
              fontsize=24, family=CAL)
pl = [(100, "for cloud lognormal distribution: Reff=5.4 µm, sigma=0.35 N=300 cm⁻³"),
      (155, "for drizzle lognormal distribution: sigma=0.35, Ref=[10,20,30,40,50,60] µm,"),
      (213, "fixing LWCratio=[0.1%,0.5%, 1%,1.5%, 2%, 2.5%, 3%, 4%, 5%] and adjusting N"),
      (270, "consequently.")]
ptexts = [ov.text(1372, y, s, ha="left", va="center", fontsize=24, family=CAL) for y, s in pl]
pbul = [ov.text(1323, y, "•", ha="center", va="center", fontsize=24, family=CAL) for y in (100, 155)]

# skewness box
ov.add_patch(Rectangle((1408, 307), 1517, 461, facecolor="#a8a8a8", edgecolor="none", alpha=0.6))
ov.add_patch(Rectangle((1402, 299), 1517, 461, facecolor="#dfe7f2", edgecolor=box_blue, lw=5.5))
bt = ov.text(2118, 335, "SKEWNESS OF THE CONVOLUTED SPECTRA vs LWCratio:", ha="center", va="center",
             fontsize=16, fontweight="bold", family=CAL)
b0 = ov.text(1426, 373, "Two main features are evident:", ha="left", va="center", fontsize=18, family=CAL)
bl = [(417, "if Reff(drizzle) is large  enough to introduce an asymmetry to the right of the spectrum peak,"),
      (462, "skewness grows to high values for low LWCratios."),
      (505, "if Reff(drizzle) is too small, drizzle is concealed by the cloud part and it results in being only"),
      (552, "slightly positive"),
      (595, "Reff(drizzle) > 20 µm can induce significant skewness fingerprints above the instrumental"),
      (640, "noise (see upper panel in the figure below)"),
      (685, "high turbulence strongly dampens the signal: in this case only Reff(drizzle) of 40 µm is"),
      (730, "detectable (see lower panel in the figure below)")]
btexts = [ov.text(1487, y, s, ha="left", va="center", fontsize=18, family=CAL) for y, s in bl]
bbul = [ov.text(1431, y, "•", ha="center", va="center", fontsize=18, family=CAL)
        for y in (417, 505, 595, 685)]

# callout boxes
callouts = [
    ((353, 370, 619, 498), 486, [402, 437, 471],
     ["Drizzle spectrum", "completely hidden", "by cloud part"]),
    ((974, 400, 1315, 528), 1145, [433, 467, 501],
     ["No deviations", "from gaussian shape due", "to cloud part"]),
    ((357, 958, 614, 1051), 485, [990, 1025],
     ["asymmetry", "towards the right"]),
    ((1248, 1163, 1542, 1433), 1395, [1195, 1229, 1263, 1298, 1333, 1369, 1405],
     ["asymmetry", "towards the right", "stronger", "for low LWC and", "then",
      "smoothed for higher", "LWC"]),
]
ctexts = []
ref_callout = None
for (x0, y0, x1, y1), cx, ys, lines in callouts:
    ov.add_patch(Rectangle((x0, y0), x1 - x0, y1 - y0, facecolor="white", edgecolor=box_blue, lw=4.5))
    for y, s in zip(ys, lines):
        t = ov.text(cx, y, s, ha="center", va="center", fontsize=20, family=CAL)
        ctexts.append(t)
        if s == "smoothed for higher":
            ref_callout = t

for (p0, p1) in [((1248, 1192), (1033, 1003)), ((1248, 1348), (1110, 1550))]:
    ov.add_patch(FancyArrowPatch(p0, p1, arrowstyle="->,head_length=1.1,head_width=0.55",
                                 mutation_scale=22, color=box_blue, lw=3.5))

fit([tt1, tt2], tt1, 1233)
fit([pp0], pp0, 740)
fit(ptexts, ptexts[1], 1469)
fit(pbul, ptexts[1], 1469, 0.75)
fit([bt], bt, 739)
fit(btexts + [b0], btexts[0], 1394)
fit(bbul, btexts[0], 1394, 0.75)
fit(ctexts, ref_callout, 243)

fig.savefig("out.png", dpi=100, facecolor="white")
